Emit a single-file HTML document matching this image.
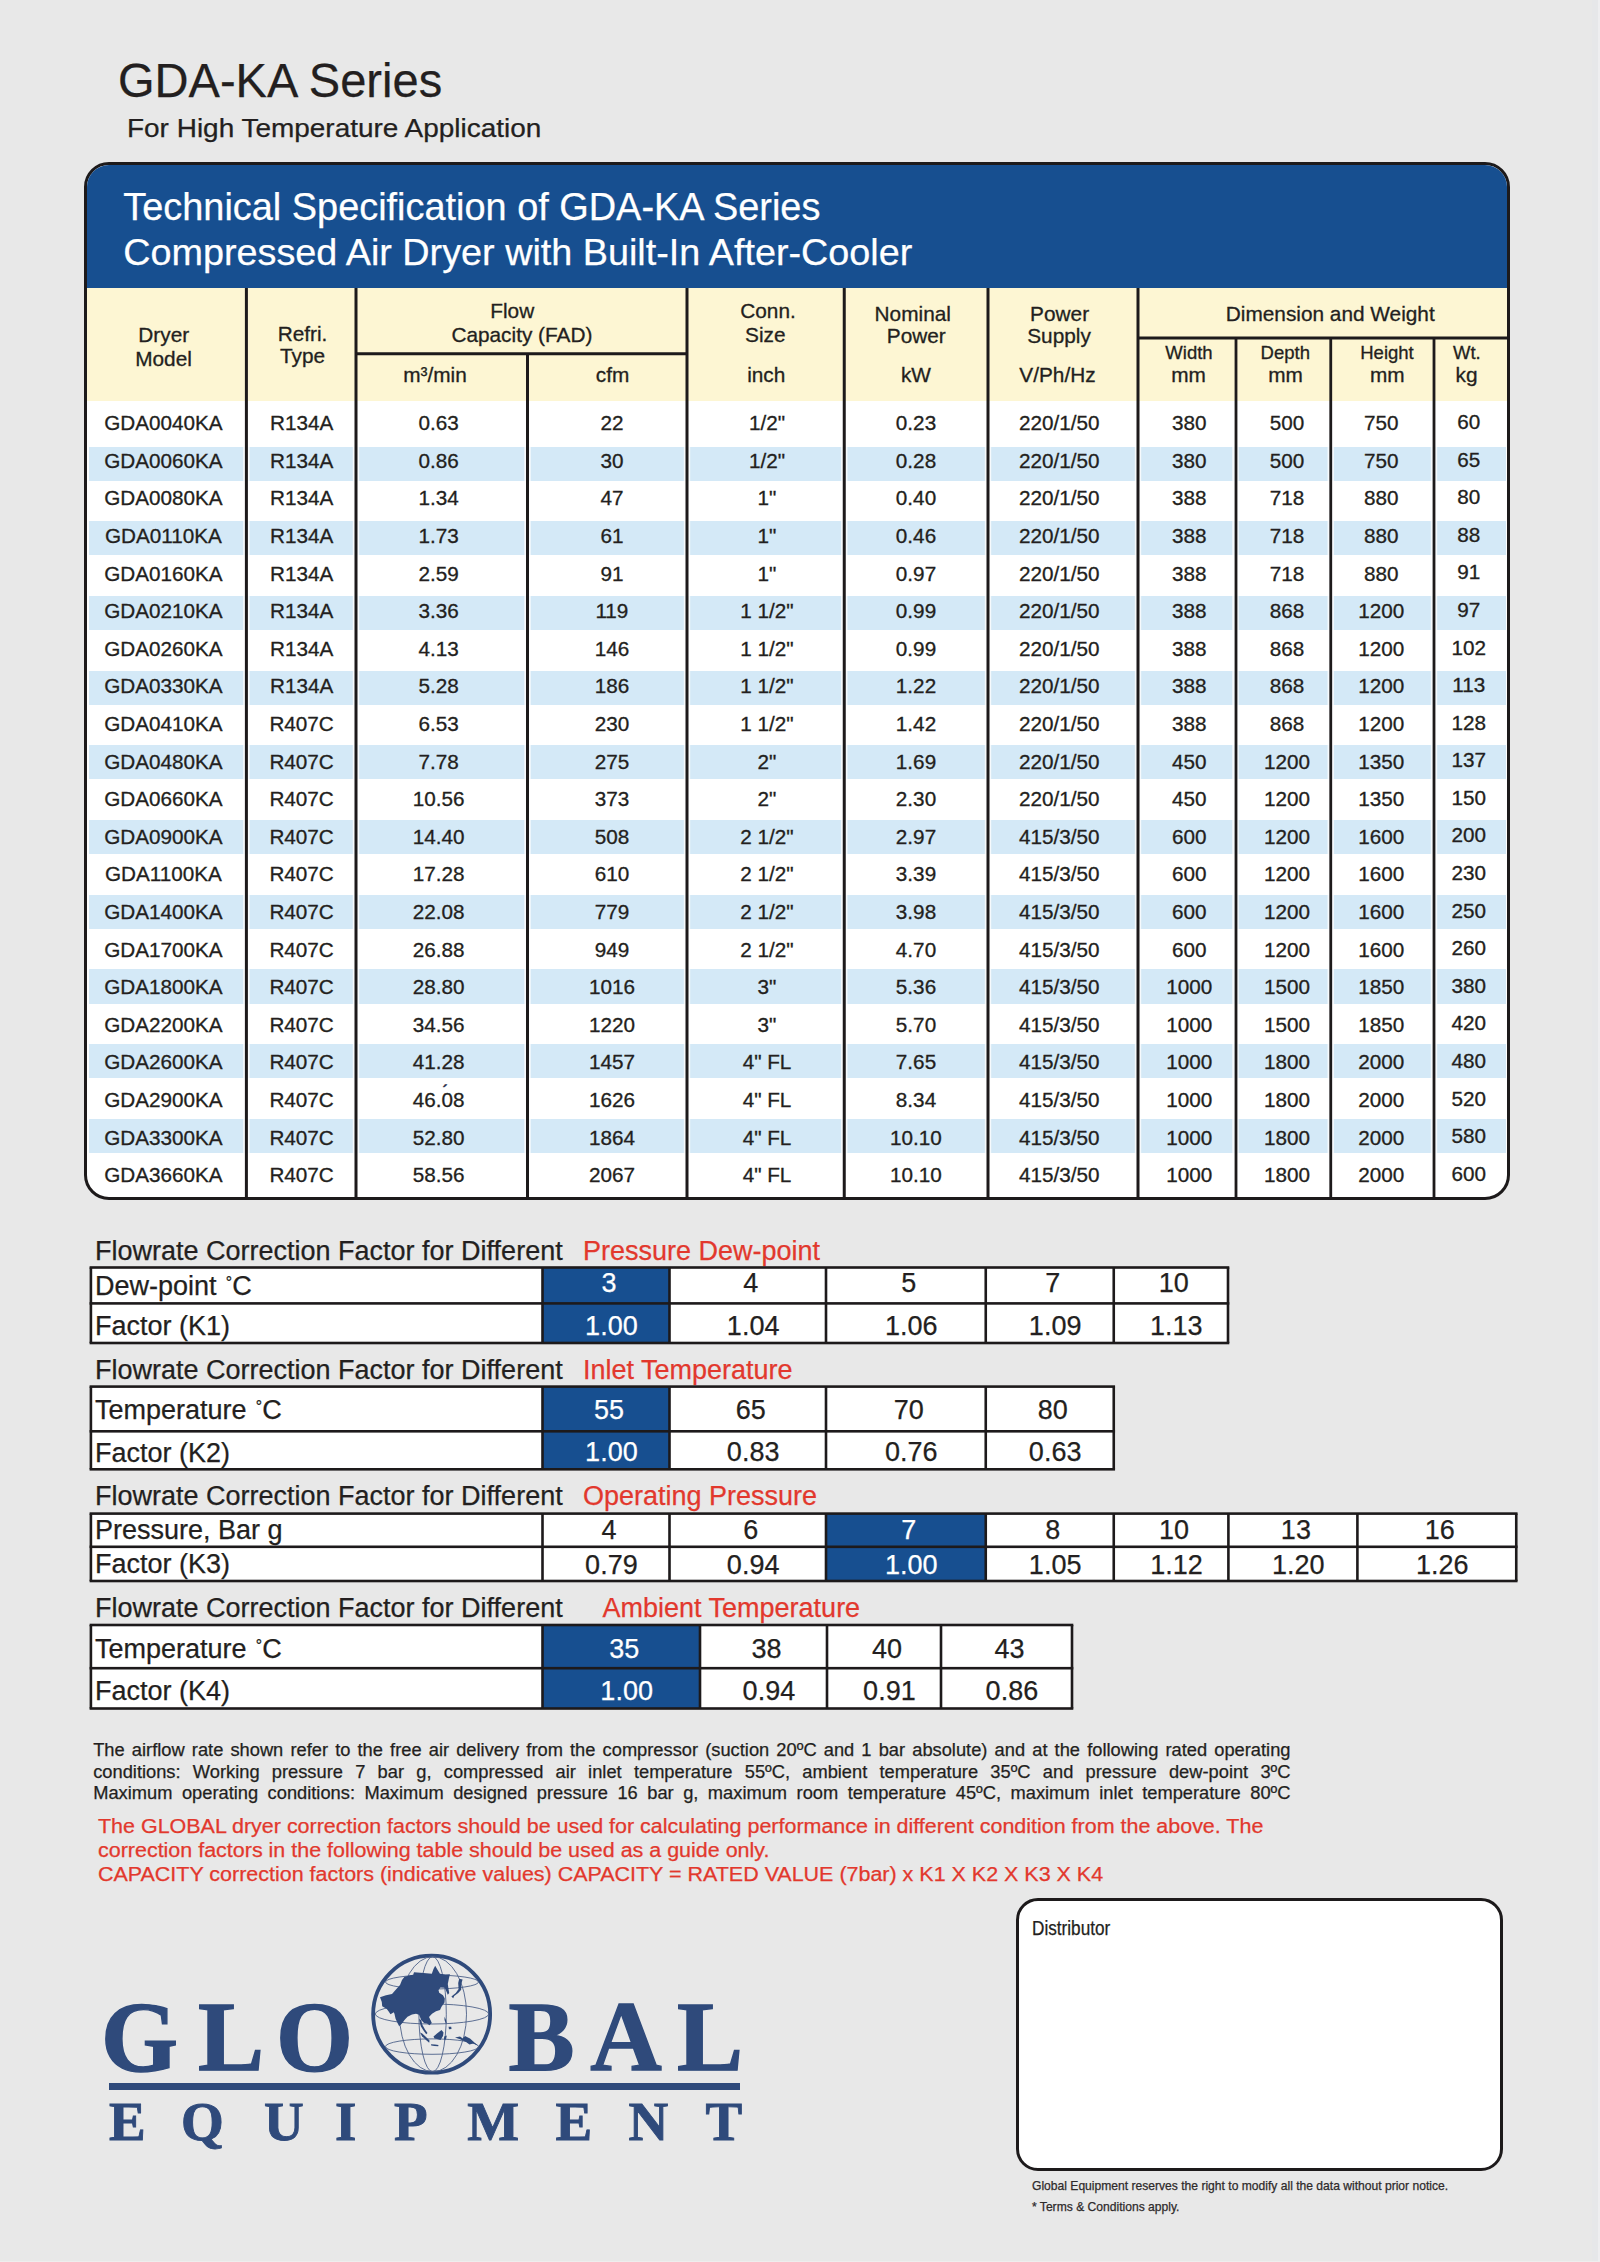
<!DOCTYPE html>
<html lang="en"><head><meta charset="utf-8"><title>GDA-KA Series – Technical Specification</title>
<style>
html,body{margin:0;padding:0;}
body{width:1600px;height:2262px;position:relative;overflow:hidden;background:#e8e8e8;
 font-family:"Liberation Sans",sans-serif;color:#231f20;}
.b{position:absolute;}
.t{position:absolute;white-space:nowrap;line-height:1;}
.j{white-space:normal;text-align:justify;text-align-last:justify;}
.t{-webkit-text-stroke:.25px currentColor;}
.d,.h{-webkit-text-stroke:.3px currentColor;}
.lg{font-family:"Liberation Serif",serif;font-weight:bold;-webkit-text-stroke:0;}
.dg{font-size:.58em;position:relative;top:-.42em;margin:0 .02em 0 .1em;}
.spec{position:absolute;border:3px solid #1d1a1b;border-radius:25px;background:#fff;overflow:hidden;}
.dist{position:absolute;border:3px solid #1d1a1b;border-radius:22px;background:#fff;}
</style></head>
<body>
<div class="b" style="left:1592.00px;top:0.00px;width:6.00px;height:2262.00px;background:#e6e7e9;"></div>
<div class="b" style="left:1598.00px;top:0.00px;width:2.00px;height:2262.00px;background:#eeeef0;"></div>
<div class="b" style="left:0.00px;top:2261.00px;width:1600.00px;height:1.00px;background:#eeeeee;"></div>
<div class="t ttl" style="left:118.10px;top:57px;font-size:48px;transform-origin:0 50%;transform:scaleX(0.98);">GDA-KA Series</div>
<div class="t ttl" style="left:126.50px;top:116px;font-size:25.3px;transform-origin:0 50%;transform:scaleX(1.105);">For High Temperature Application</div>
<div class="spec" style="left:84.0px;top:162.0px;width:1420.00px;height:1032.00px;">
<div class="b" style="left:0.00px;top:0.00px;width:1420.00px;height:123.00px;background:#174f90;"></div>
<div class="b" style="left:0.00px;top:123.00px;width:1420.00px;height:112.80px;background:#fdf6d3;"></div>
<div class="b" style="left:2.00px;top:281.50px;width:1416.50px;height:34.20px;background:#d4e9f7;"></div>
<div class="b" style="left:2.00px;top:356.20px;width:1416.50px;height:34.20px;background:#d4e9f7;"></div>
<div class="b" style="left:2.00px;top:430.90px;width:1416.50px;height:34.20px;background:#d4e9f7;"></div>
<div class="b" style="left:2.00px;top:505.60px;width:1416.50px;height:34.20px;background:#d4e9f7;"></div>
<div class="b" style="left:2.00px;top:580.30px;width:1416.50px;height:34.20px;background:#d4e9f7;"></div>
<div class="b" style="left:2.00px;top:655.00px;width:1416.50px;height:34.20px;background:#d4e9f7;"></div>
<div class="b" style="left:2.00px;top:729.70px;width:1416.50px;height:34.20px;background:#d4e9f7;"></div>
<div class="b" style="left:2.00px;top:804.40px;width:1416.50px;height:34.20px;background:#d4e9f7;"></div>
<div class="b" style="left:2.00px;top:879.10px;width:1416.50px;height:34.20px;background:#d4e9f7;"></div>
<div class="b" style="left:2.00px;top:953.80px;width:1416.50px;height:34.20px;background:#d4e9f7;"></div>
</div>
<div class="t" style="left:123.30px;top:189px;font-size:37.9px;color:#fff;">Technical Specification of GDA-KA Series</div>
<div class="t" style="left:123.20px;top:234px;font-size:37.78px;color:#fff;">Compressed Air Dryer with Built-In After-Cooler</div>
<svg class="b" style="left:0;top:280px" width="1600" height="930" viewBox="0 280 1600 930" fill="#1d1a1b"><g fill="#fff" opacity=".8"><rect x="243.20" y="401" width="6.4" height="796"/><rect x="352.80" y="401" width="6.4" height="796"/><rect x="683.80" y="401" width="6.4" height="796"/><rect x="841.05" y="401" width="6.4" height="796"/><rect x="984.80" y="401" width="6.4" height="796"/><rect x="1134.80" y="401" width="6.4" height="796"/><rect x="524.30" y="401" width="6.4" height="796"/><rect x="1232.30" y="401" width="6.4" height="796"/><rect x="1327.55" y="401" width="6.4" height="796"/><rect x="1430.80" y="401" width="6.4" height="796"/></g><rect x="244.90" y="288.00" width="3.00" height="909.50"/><rect x="354.50" y="288.00" width="3.00" height="909.50"/><rect x="685.50" y="288.00" width="3.00" height="909.50"/><rect x="842.75" y="288.00" width="3.00" height="909.50"/><rect x="986.50" y="288.00" width="3.00" height="909.50"/><rect x="1136.50" y="288.00" width="3.00" height="909.50"/><rect x="526.00" y="353.75" width="3.00" height="843.75"/><rect x="1234.60" y="338.00" width="2.80" height="859.50"/><rect x="1329.35" y="338.00" width="2.80" height="859.50"/><rect x="1432.60" y="338.00" width="2.80" height="859.50"/><rect x="356.00" y="352.25" width="331.00" height="3.00"/><rect x="1138.00" y="336.50" width="369.00" height="3.00"/></svg>
<div class="t h" style="left:163.75px;top:325px;font-size:20.8px;transform:translateX(-50%);">Dryer</div>
<div class="t h" style="left:163.50px;top:349px;font-size:20.8px;transform:translateX(-50%);">Model</div>
<div class="t h" style="left:302.50px;top:324px;font-size:20.8px;transform:translateX(-50%);">Refri.</div>
<div class="t h" style="left:302.50px;top:346px;font-size:20.8px;transform:translateX(-50%);">Type</div>
<div class="t h" style="left:512.25px;top:301px;font-size:20.8px;transform:translateX(-50%);">Flow</div>
<div class="t h" style="left:521.90px;top:325px;font-size:20.8px;transform:translateX(-50%);">Capacity (FAD)</div>
<div class="t h" style="left:435.00px;top:365px;font-size:20.8px;transform:translateX(-50%);">m³/min</div>
<div class="t h" style="left:612.50px;top:365px;font-size:20.8px;transform:translateX(-50%);">cfm</div>
<div class="t h" style="left:768.00px;top:301px;font-size:20.8px;transform:translateX(-50%);">Conn.</div>
<div class="t h" style="left:765.25px;top:325px;font-size:20.8px;transform:translateX(-50%);">Size</div>
<div class="t h" style="left:766.25px;top:365px;font-size:20.8px;transform:translateX(-50%);">inch</div>
<div class="t h" style="left:912.75px;top:304px;font-size:20.8px;transform:translateX(-50%);">Nominal</div>
<div class="t h" style="left:916.25px;top:326px;font-size:20.8px;transform:translateX(-50%);">Power</div>
<div class="t h" style="left:915.90px;top:365px;font-size:20.8px;transform:translateX(-50%);">kW</div>
<div class="t h" style="left:1059.60px;top:304px;font-size:20.8px;transform:translateX(-50%);">Power</div>
<div class="t h" style="left:1059.00px;top:326px;font-size:20.8px;transform:translateX(-50%);">Supply</div>
<div class="t h" style="left:1057.50px;top:365px;font-size:20.8px;transform:translateX(-50%);">V/Ph/Hz</div>
<div class="t h" style="left:1330.25px;top:304px;font-size:20.8px;transform:translateX(-50%);">Dimension and Weight</div>
<div class="t h" style="left:1189.00px;top:344px;font-size:18.5px;transform:translateX(-50%);">Width</div>
<div class="t h" style="left:1188.50px;top:365px;font-size:20.8px;transform:translateX(-50%);">mm</div>
<div class="t h" style="left:1285.25px;top:344px;font-size:18.5px;transform:translateX(-50%);">Depth</div>
<div class="t h" style="left:1285.50px;top:365px;font-size:20.8px;transform:translateX(-50%);">mm</div>
<div class="t h" style="left:1387.00px;top:344px;font-size:18.5px;transform:translateX(-50%);">Height</div>
<div class="t h" style="left:1387.25px;top:365px;font-size:20.8px;transform:translateX(-50%);">mm</div>
<div class="t h" style="left:1466.90px;top:344px;font-size:18.5px;transform:translateX(-50%);">Wt.</div>
<div class="t h" style="left:1466.60px;top:365px;font-size:20.8px;transform:translateX(-50%);">kg</div>
<div class="t d" style="left:163.40px;top:413px;font-size:20.7px;transform:translateX(-50%);">GDA0040KA</div>
<div class="t d" style="left:301.60px;top:413px;font-size:20.7px;transform:translateX(-50%);">R134A</div>
<div class="t d" style="left:438.70px;top:413px;font-size:20.7px;transform:translateX(-50%);">0.63</div>
<div class="t d" style="left:611.90px;top:413px;font-size:20.7px;transform:translateX(-50%);">22</div>
<div class="t d" style="left:767.00px;top:413px;font-size:20.7px;transform:translateX(-50%);">1/2"</div>
<div class="t d" style="left:916.00px;top:413px;font-size:20.7px;transform:translateX(-50%);">0.23</div>
<div class="t d" style="left:1059.20px;top:413px;font-size:20.7px;transform:translateX(-50%);">220/1/50</div>
<div class="t d" style="left:1189.20px;top:413px;font-size:20.7px;transform:translateX(-50%);">380</div>
<div class="t d" style="left:1287.00px;top:413px;font-size:20.7px;transform:translateX(-50%);">500</div>
<div class="t d" style="left:1381.20px;top:413px;font-size:20.7px;transform:translateX(-50%);">750</div>
<div class="t d" style="left:1468.80px;top:412px;font-size:20.7px;transform:translateX(-50%);">60</div>
<div class="t d" style="left:163.40px;top:451px;font-size:20.7px;transform:translateX(-50%);">GDA0060KA</div>
<div class="t d" style="left:301.60px;top:451px;font-size:20.7px;transform:translateX(-50%);">R134A</div>
<div class="t d" style="left:438.70px;top:451px;font-size:20.7px;transform:translateX(-50%);">0.86</div>
<div class="t d" style="left:611.90px;top:451px;font-size:20.7px;transform:translateX(-50%);">30</div>
<div class="t d" style="left:767.00px;top:451px;font-size:20.7px;transform:translateX(-50%);">1/2"</div>
<div class="t d" style="left:916.00px;top:451px;font-size:20.7px;transform:translateX(-50%);">0.28</div>
<div class="t d" style="left:1059.20px;top:451px;font-size:20.7px;transform:translateX(-50%);">220/1/50</div>
<div class="t d" style="left:1189.20px;top:451px;font-size:20.7px;transform:translateX(-50%);">380</div>
<div class="t d" style="left:1287.00px;top:451px;font-size:20.7px;transform:translateX(-50%);">500</div>
<div class="t d" style="left:1381.20px;top:451px;font-size:20.7px;transform:translateX(-50%);">750</div>
<div class="t d" style="left:1468.80px;top:450px;font-size:20.7px;transform:translateX(-50%);">65</div>
<div class="t d" style="left:163.40px;top:488px;font-size:20.7px;transform:translateX(-50%);">GDA0080KA</div>
<div class="t d" style="left:301.60px;top:488px;font-size:20.7px;transform:translateX(-50%);">R134A</div>
<div class="t d" style="left:438.70px;top:488px;font-size:20.7px;transform:translateX(-50%);">1.34</div>
<div class="t d" style="left:611.90px;top:488px;font-size:20.7px;transform:translateX(-50%);">47</div>
<div class="t d" style="left:767.00px;top:488px;font-size:20.7px;transform:translateX(-50%);">1"</div>
<div class="t d" style="left:916.00px;top:488px;font-size:20.7px;transform:translateX(-50%);">0.40</div>
<div class="t d" style="left:1059.20px;top:488px;font-size:20.7px;transform:translateX(-50%);">220/1/50</div>
<div class="t d" style="left:1189.20px;top:488px;font-size:20.7px;transform:translateX(-50%);">388</div>
<div class="t d" style="left:1287.00px;top:488px;font-size:20.7px;transform:translateX(-50%);">718</div>
<div class="t d" style="left:1381.20px;top:488px;font-size:20.7px;transform:translateX(-50%);">880</div>
<div class="t d" style="left:1468.80px;top:487px;font-size:20.7px;transform:translateX(-50%);">80</div>
<div class="t d" style="left:163.40px;top:526px;font-size:20.7px;transform:translateX(-50%);">GDA0110KA</div>
<div class="t d" style="left:301.60px;top:526px;font-size:20.7px;transform:translateX(-50%);">R134A</div>
<div class="t d" style="left:438.70px;top:526px;font-size:20.7px;transform:translateX(-50%);">1.73</div>
<div class="t d" style="left:611.90px;top:526px;font-size:20.7px;transform:translateX(-50%);">61</div>
<div class="t d" style="left:767.00px;top:526px;font-size:20.7px;transform:translateX(-50%);">1"</div>
<div class="t d" style="left:916.00px;top:526px;font-size:20.7px;transform:translateX(-50%);">0.46</div>
<div class="t d" style="left:1059.20px;top:526px;font-size:20.7px;transform:translateX(-50%);">220/1/50</div>
<div class="t d" style="left:1189.20px;top:526px;font-size:20.7px;transform:translateX(-50%);">388</div>
<div class="t d" style="left:1287.00px;top:526px;font-size:20.7px;transform:translateX(-50%);">718</div>
<div class="t d" style="left:1381.20px;top:526px;font-size:20.7px;transform:translateX(-50%);">880</div>
<div class="t d" style="left:1468.80px;top:525px;font-size:20.7px;transform:translateX(-50%);">88</div>
<div class="t d" style="left:163.40px;top:564px;font-size:20.7px;transform:translateX(-50%);">GDA0160KA</div>
<div class="t d" style="left:301.60px;top:564px;font-size:20.7px;transform:translateX(-50%);">R134A</div>
<div class="t d" style="left:438.70px;top:564px;font-size:20.7px;transform:translateX(-50%);">2.59</div>
<div class="t d" style="left:611.90px;top:564px;font-size:20.7px;transform:translateX(-50%);">91</div>
<div class="t d" style="left:767.00px;top:564px;font-size:20.7px;transform:translateX(-50%);">1"</div>
<div class="t d" style="left:916.00px;top:564px;font-size:20.7px;transform:translateX(-50%);">0.97</div>
<div class="t d" style="left:1059.20px;top:564px;font-size:20.7px;transform:translateX(-50%);">220/1/50</div>
<div class="t d" style="left:1189.20px;top:564px;font-size:20.7px;transform:translateX(-50%);">388</div>
<div class="t d" style="left:1287.00px;top:564px;font-size:20.7px;transform:translateX(-50%);">718</div>
<div class="t d" style="left:1381.20px;top:564px;font-size:20.7px;transform:translateX(-50%);">880</div>
<div class="t d" style="left:1468.80px;top:562px;font-size:20.7px;transform:translateX(-50%);">91</div>
<div class="t d" style="left:163.40px;top:601px;font-size:20.7px;transform:translateX(-50%);">GDA0210KA</div>
<div class="t d" style="left:301.60px;top:601px;font-size:20.7px;transform:translateX(-50%);">R134A</div>
<div class="t d" style="left:438.70px;top:601px;font-size:20.7px;transform:translateX(-50%);">3.36</div>
<div class="t d" style="left:611.90px;top:601px;font-size:20.7px;transform:translateX(-50%);">119</div>
<div class="t d" style="left:767.00px;top:601px;font-size:20.7px;transform:translateX(-50%);">1 1/2"</div>
<div class="t d" style="left:916.00px;top:601px;font-size:20.7px;transform:translateX(-50%);">0.99</div>
<div class="t d" style="left:1059.20px;top:601px;font-size:20.7px;transform:translateX(-50%);">220/1/50</div>
<div class="t d" style="left:1189.20px;top:601px;font-size:20.7px;transform:translateX(-50%);">388</div>
<div class="t d" style="left:1287.00px;top:601px;font-size:20.7px;transform:translateX(-50%);">868</div>
<div class="t d" style="left:1381.20px;top:601px;font-size:20.7px;transform:translateX(-50%);">1200</div>
<div class="t d" style="left:1468.80px;top:600px;font-size:20.7px;transform:translateX(-50%);">97</div>
<div class="t d" style="left:163.40px;top:639px;font-size:20.7px;transform:translateX(-50%);">GDA0260KA</div>
<div class="t d" style="left:301.60px;top:639px;font-size:20.7px;transform:translateX(-50%);">R134A</div>
<div class="t d" style="left:438.70px;top:639px;font-size:20.7px;transform:translateX(-50%);">4.13</div>
<div class="t d" style="left:611.90px;top:639px;font-size:20.7px;transform:translateX(-50%);">146</div>
<div class="t d" style="left:767.00px;top:639px;font-size:20.7px;transform:translateX(-50%);">1 1/2"</div>
<div class="t d" style="left:916.00px;top:639px;font-size:20.7px;transform:translateX(-50%);">0.99</div>
<div class="t d" style="left:1059.20px;top:639px;font-size:20.7px;transform:translateX(-50%);">220/1/50</div>
<div class="t d" style="left:1189.20px;top:639px;font-size:20.7px;transform:translateX(-50%);">388</div>
<div class="t d" style="left:1287.00px;top:639px;font-size:20.7px;transform:translateX(-50%);">868</div>
<div class="t d" style="left:1381.20px;top:639px;font-size:20.7px;transform:translateX(-50%);">1200</div>
<div class="t d" style="left:1468.80px;top:638px;font-size:20.7px;transform:translateX(-50%);">102</div>
<div class="t d" style="left:163.40px;top:676px;font-size:20.7px;transform:translateX(-50%);">GDA0330KA</div>
<div class="t d" style="left:301.60px;top:676px;font-size:20.7px;transform:translateX(-50%);">R134A</div>
<div class="t d" style="left:438.70px;top:676px;font-size:20.7px;transform:translateX(-50%);">5.28</div>
<div class="t d" style="left:611.90px;top:676px;font-size:20.7px;transform:translateX(-50%);">186</div>
<div class="t d" style="left:767.00px;top:676px;font-size:20.7px;transform:translateX(-50%);">1 1/2"</div>
<div class="t d" style="left:916.00px;top:676px;font-size:20.7px;transform:translateX(-50%);">1.22</div>
<div class="t d" style="left:1059.20px;top:676px;font-size:20.7px;transform:translateX(-50%);">220/1/50</div>
<div class="t d" style="left:1189.20px;top:676px;font-size:20.7px;transform:translateX(-50%);">388</div>
<div class="t d" style="left:1287.00px;top:676px;font-size:20.7px;transform:translateX(-50%);">868</div>
<div class="t d" style="left:1381.20px;top:676px;font-size:20.7px;transform:translateX(-50%);">1200</div>
<div class="t d" style="left:1468.80px;top:675px;font-size:20.7px;transform:translateX(-50%);">113</div>
<div class="t d" style="left:163.40px;top:714px;font-size:20.7px;transform:translateX(-50%);">GDA0410KA</div>
<div class="t d" style="left:301.60px;top:714px;font-size:20.7px;transform:translateX(-50%);">R407C</div>
<div class="t d" style="left:438.70px;top:714px;font-size:20.7px;transform:translateX(-50%);">6.53</div>
<div class="t d" style="left:611.90px;top:714px;font-size:20.7px;transform:translateX(-50%);">230</div>
<div class="t d" style="left:767.00px;top:714px;font-size:20.7px;transform:translateX(-50%);">1 1/2"</div>
<div class="t d" style="left:916.00px;top:714px;font-size:20.7px;transform:translateX(-50%);">1.42</div>
<div class="t d" style="left:1059.20px;top:714px;font-size:20.7px;transform:translateX(-50%);">220/1/50</div>
<div class="t d" style="left:1189.20px;top:714px;font-size:20.7px;transform:translateX(-50%);">388</div>
<div class="t d" style="left:1287.00px;top:714px;font-size:20.7px;transform:translateX(-50%);">868</div>
<div class="t d" style="left:1381.20px;top:714px;font-size:20.7px;transform:translateX(-50%);">1200</div>
<div class="t d" style="left:1468.80px;top:713px;font-size:20.7px;transform:translateX(-50%);">128</div>
<div class="t d" style="left:163.40px;top:752px;font-size:20.7px;transform:translateX(-50%);">GDA0480KA</div>
<div class="t d" style="left:301.60px;top:752px;font-size:20.7px;transform:translateX(-50%);">R407C</div>
<div class="t d" style="left:438.70px;top:752px;font-size:20.7px;transform:translateX(-50%);">7.78</div>
<div class="t d" style="left:611.90px;top:752px;font-size:20.7px;transform:translateX(-50%);">275</div>
<div class="t d" style="left:767.00px;top:752px;font-size:20.7px;transform:translateX(-50%);">2"</div>
<div class="t d" style="left:916.00px;top:752px;font-size:20.7px;transform:translateX(-50%);">1.69</div>
<div class="t d" style="left:1059.20px;top:752px;font-size:20.7px;transform:translateX(-50%);">220/1/50</div>
<div class="t d" style="left:1189.20px;top:752px;font-size:20.7px;transform:translateX(-50%);">450</div>
<div class="t d" style="left:1287.00px;top:752px;font-size:20.7px;transform:translateX(-50%);">1200</div>
<div class="t d" style="left:1381.20px;top:752px;font-size:20.7px;transform:translateX(-50%);">1350</div>
<div class="t d" style="left:1468.80px;top:750px;font-size:20.7px;transform:translateX(-50%);">137</div>
<div class="t d" style="left:163.40px;top:789px;font-size:20.7px;transform:translateX(-50%);">GDA0660KA</div>
<div class="t d" style="left:301.60px;top:789px;font-size:20.7px;transform:translateX(-50%);">R407C</div>
<div class="t d" style="left:438.70px;top:789px;font-size:20.7px;transform:translateX(-50%);">10.56</div>
<div class="t d" style="left:611.90px;top:789px;font-size:20.7px;transform:translateX(-50%);">373</div>
<div class="t d" style="left:767.00px;top:789px;font-size:20.7px;transform:translateX(-50%);">2"</div>
<div class="t d" style="left:916.00px;top:789px;font-size:20.7px;transform:translateX(-50%);">2.30</div>
<div class="t d" style="left:1059.20px;top:789px;font-size:20.7px;transform:translateX(-50%);">220/1/50</div>
<div class="t d" style="left:1189.20px;top:789px;font-size:20.7px;transform:translateX(-50%);">450</div>
<div class="t d" style="left:1287.00px;top:789px;font-size:20.7px;transform:translateX(-50%);">1200</div>
<div class="t d" style="left:1381.20px;top:789px;font-size:20.7px;transform:translateX(-50%);">1350</div>
<div class="t d" style="left:1468.80px;top:788px;font-size:20.7px;transform:translateX(-50%);">150</div>
<div class="t d" style="left:163.40px;top:827px;font-size:20.7px;transform:translateX(-50%);">GDA0900KA</div>
<div class="t d" style="left:301.60px;top:827px;font-size:20.7px;transform:translateX(-50%);">R407C</div>
<div class="t d" style="left:438.70px;top:827px;font-size:20.7px;transform:translateX(-50%);">14.40</div>
<div class="t d" style="left:611.90px;top:827px;font-size:20.7px;transform:translateX(-50%);">508</div>
<div class="t d" style="left:767.00px;top:827px;font-size:20.7px;transform:translateX(-50%);">2 1/2"</div>
<div class="t d" style="left:916.00px;top:827px;font-size:20.7px;transform:translateX(-50%);">2.97</div>
<div class="t d" style="left:1059.20px;top:827px;font-size:20.7px;transform:translateX(-50%);">415/3/50</div>
<div class="t d" style="left:1189.20px;top:827px;font-size:20.7px;transform:translateX(-50%);">600</div>
<div class="t d" style="left:1287.00px;top:827px;font-size:20.7px;transform:translateX(-50%);">1200</div>
<div class="t d" style="left:1381.20px;top:827px;font-size:20.7px;transform:translateX(-50%);">1600</div>
<div class="t d" style="left:1468.80px;top:825px;font-size:20.7px;transform:translateX(-50%);">200</div>
<div class="t d" style="left:163.40px;top:864px;font-size:20.7px;transform:translateX(-50%);">GDA1100KA</div>
<div class="t d" style="left:301.60px;top:864px;font-size:20.7px;transform:translateX(-50%);">R407C</div>
<div class="t d" style="left:438.70px;top:864px;font-size:20.7px;transform:translateX(-50%);">17.28</div>
<div class="t d" style="left:611.90px;top:864px;font-size:20.7px;transform:translateX(-50%);">610</div>
<div class="t d" style="left:767.00px;top:864px;font-size:20.7px;transform:translateX(-50%);">2 1/2"</div>
<div class="t d" style="left:916.00px;top:864px;font-size:20.7px;transform:translateX(-50%);">3.39</div>
<div class="t d" style="left:1059.20px;top:864px;font-size:20.7px;transform:translateX(-50%);">415/3/50</div>
<div class="t d" style="left:1189.20px;top:864px;font-size:20.7px;transform:translateX(-50%);">600</div>
<div class="t d" style="left:1287.00px;top:864px;font-size:20.7px;transform:translateX(-50%);">1200</div>
<div class="t d" style="left:1381.20px;top:864px;font-size:20.7px;transform:translateX(-50%);">1600</div>
<div class="t d" style="left:1468.80px;top:863px;font-size:20.7px;transform:translateX(-50%);">230</div>
<div class="t d" style="left:163.40px;top:902px;font-size:20.7px;transform:translateX(-50%);">GDA1400KA</div>
<div class="t d" style="left:301.60px;top:902px;font-size:20.7px;transform:translateX(-50%);">R407C</div>
<div class="t d" style="left:438.70px;top:902px;font-size:20.7px;transform:translateX(-50%);">22.08</div>
<div class="t d" style="left:611.90px;top:902px;font-size:20.7px;transform:translateX(-50%);">779</div>
<div class="t d" style="left:767.00px;top:902px;font-size:20.7px;transform:translateX(-50%);">2 1/2"</div>
<div class="t d" style="left:916.00px;top:902px;font-size:20.7px;transform:translateX(-50%);">3.98</div>
<div class="t d" style="left:1059.20px;top:902px;font-size:20.7px;transform:translateX(-50%);">415/3/50</div>
<div class="t d" style="left:1189.20px;top:902px;font-size:20.7px;transform:translateX(-50%);">600</div>
<div class="t d" style="left:1287.00px;top:902px;font-size:20.7px;transform:translateX(-50%);">1200</div>
<div class="t d" style="left:1381.20px;top:902px;font-size:20.7px;transform:translateX(-50%);">1600</div>
<div class="t d" style="left:1468.80px;top:901px;font-size:20.7px;transform:translateX(-50%);">250</div>
<div class="t d" style="left:163.40px;top:940px;font-size:20.7px;transform:translateX(-50%);">GDA1700KA</div>
<div class="t d" style="left:301.60px;top:940px;font-size:20.7px;transform:translateX(-50%);">R407C</div>
<div class="t d" style="left:438.70px;top:940px;font-size:20.7px;transform:translateX(-50%);">26.88</div>
<div class="t d" style="left:611.90px;top:940px;font-size:20.7px;transform:translateX(-50%);">949</div>
<div class="t d" style="left:767.00px;top:940px;font-size:20.7px;transform:translateX(-50%);">2 1/2"</div>
<div class="t d" style="left:916.00px;top:940px;font-size:20.7px;transform:translateX(-50%);">4.70</div>
<div class="t d" style="left:1059.20px;top:940px;font-size:20.7px;transform:translateX(-50%);">415/3/50</div>
<div class="t d" style="left:1189.20px;top:940px;font-size:20.7px;transform:translateX(-50%);">600</div>
<div class="t d" style="left:1287.00px;top:940px;font-size:20.7px;transform:translateX(-50%);">1200</div>
<div class="t d" style="left:1381.20px;top:940px;font-size:20.7px;transform:translateX(-50%);">1600</div>
<div class="t d" style="left:1468.80px;top:938px;font-size:20.7px;transform:translateX(-50%);">260</div>
<div class="t d" style="left:163.40px;top:977px;font-size:20.7px;transform:translateX(-50%);">GDA1800KA</div>
<div class="t d" style="left:301.60px;top:977px;font-size:20.7px;transform:translateX(-50%);">R407C</div>
<div class="t d" style="left:438.70px;top:977px;font-size:20.7px;transform:translateX(-50%);">28.80</div>
<div class="t d" style="left:611.90px;top:977px;font-size:20.7px;transform:translateX(-50%);">1016</div>
<div class="t d" style="left:767.00px;top:977px;font-size:20.7px;transform:translateX(-50%);">3"</div>
<div class="t d" style="left:916.00px;top:977px;font-size:20.7px;transform:translateX(-50%);">5.36</div>
<div class="t d" style="left:1059.20px;top:977px;font-size:20.7px;transform:translateX(-50%);">415/3/50</div>
<div class="t d" style="left:1189.20px;top:977px;font-size:20.7px;transform:translateX(-50%);">1000</div>
<div class="t d" style="left:1287.00px;top:977px;font-size:20.7px;transform:translateX(-50%);">1500</div>
<div class="t d" style="left:1381.20px;top:977px;font-size:20.7px;transform:translateX(-50%);">1850</div>
<div class="t d" style="left:1468.80px;top:976px;font-size:20.7px;transform:translateX(-50%);">380</div>
<div class="t d" style="left:163.40px;top:1015px;font-size:20.7px;transform:translateX(-50%);">GDA2200KA</div>
<div class="t d" style="left:301.60px;top:1015px;font-size:20.7px;transform:translateX(-50%);">R407C</div>
<div class="t d" style="left:438.70px;top:1015px;font-size:20.7px;transform:translateX(-50%);">34.56</div>
<div class="t d" style="left:611.90px;top:1015px;font-size:20.7px;transform:translateX(-50%);">1220</div>
<div class="t d" style="left:767.00px;top:1015px;font-size:20.7px;transform:translateX(-50%);">3"</div>
<div class="t d" style="left:916.00px;top:1015px;font-size:20.7px;transform:translateX(-50%);">5.70</div>
<div class="t d" style="left:1059.20px;top:1015px;font-size:20.7px;transform:translateX(-50%);">415/3/50</div>
<div class="t d" style="left:1189.20px;top:1015px;font-size:20.7px;transform:translateX(-50%);">1000</div>
<div class="t d" style="left:1287.00px;top:1015px;font-size:20.7px;transform:translateX(-50%);">1500</div>
<div class="t d" style="left:1381.20px;top:1015px;font-size:20.7px;transform:translateX(-50%);">1850</div>
<div class="t d" style="left:1468.80px;top:1013px;font-size:20.7px;transform:translateX(-50%);">420</div>
<div class="t d" style="left:163.40px;top:1052px;font-size:20.7px;transform:translateX(-50%);">GDA2600KA</div>
<div class="t d" style="left:301.60px;top:1052px;font-size:20.7px;transform:translateX(-50%);">R407C</div>
<div class="t d" style="left:438.70px;top:1052px;font-size:20.7px;transform:translateX(-50%);">41.28</div>
<div class="t d" style="left:611.90px;top:1052px;font-size:20.7px;transform:translateX(-50%);">1457</div>
<div class="t d" style="left:767.00px;top:1052px;font-size:20.7px;transform:translateX(-50%);">4" FL</div>
<div class="t d" style="left:916.00px;top:1052px;font-size:20.7px;transform:translateX(-50%);">7.65</div>
<div class="t d" style="left:1059.20px;top:1052px;font-size:20.7px;transform:translateX(-50%);">415/3/50</div>
<div class="t d" style="left:1189.20px;top:1052px;font-size:20.7px;transform:translateX(-50%);">1000</div>
<div class="t d" style="left:1287.00px;top:1052px;font-size:20.7px;transform:translateX(-50%);">1800</div>
<div class="t d" style="left:1381.20px;top:1052px;font-size:20.7px;transform:translateX(-50%);">2000</div>
<div class="t d" style="left:1468.80px;top:1051px;font-size:20.7px;transform:translateX(-50%);">480</div>
<div class="t d" style="left:163.40px;top:1090px;font-size:20.7px;transform:translateX(-50%);">GDA2900KA</div>
<div class="t d" style="left:301.60px;top:1090px;font-size:20.7px;transform:translateX(-50%);">R407C</div>
<div class="t d" style="left:438.70px;top:1090px;font-size:20.7px;transform:translateX(-50%);">46.08</div>
<div class="t d" style="left:611.90px;top:1090px;font-size:20.7px;transform:translateX(-50%);">1626</div>
<div class="t d" style="left:767.00px;top:1090px;font-size:20.7px;transform:translateX(-50%);">4" FL</div>
<div class="t d" style="left:916.00px;top:1090px;font-size:20.7px;transform:translateX(-50%);">8.34</div>
<div class="t d" style="left:1059.20px;top:1090px;font-size:20.7px;transform:translateX(-50%);">415/3/50</div>
<div class="t d" style="left:1189.20px;top:1090px;font-size:20.7px;transform:translateX(-50%);">1000</div>
<div class="t d" style="left:1287.00px;top:1090px;font-size:20.7px;transform:translateX(-50%);">1800</div>
<div class="t d" style="left:1381.20px;top:1090px;font-size:20.7px;transform:translateX(-50%);">2000</div>
<div class="t d" style="left:1468.80px;top:1089px;font-size:20.7px;transform:translateX(-50%);">520</div>
<div class="t d" style="left:163.40px;top:1128px;font-size:20.7px;transform:translateX(-50%);">GDA3300KA</div>
<div class="t d" style="left:301.60px;top:1128px;font-size:20.7px;transform:translateX(-50%);">R407C</div>
<div class="t d" style="left:438.70px;top:1128px;font-size:20.7px;transform:translateX(-50%);">52.80</div>
<div class="t d" style="left:611.90px;top:1128px;font-size:20.7px;transform:translateX(-50%);">1864</div>
<div class="t d" style="left:767.00px;top:1128px;font-size:20.7px;transform:translateX(-50%);">4" FL</div>
<div class="t d" style="left:916.00px;top:1128px;font-size:20.7px;transform:translateX(-50%);">10.10</div>
<div class="t d" style="left:1059.20px;top:1128px;font-size:20.7px;transform:translateX(-50%);">415/3/50</div>
<div class="t d" style="left:1189.20px;top:1128px;font-size:20.7px;transform:translateX(-50%);">1000</div>
<div class="t d" style="left:1287.00px;top:1128px;font-size:20.7px;transform:translateX(-50%);">1800</div>
<div class="t d" style="left:1381.20px;top:1128px;font-size:20.7px;transform:translateX(-50%);">2000</div>
<div class="t d" style="left:1468.80px;top:1126px;font-size:20.7px;transform:translateX(-50%);">580</div>
<div class="t d" style="left:163.40px;top:1165px;font-size:20.7px;transform:translateX(-50%);">GDA3660KA</div>
<div class="t d" style="left:301.60px;top:1165px;font-size:20.7px;transform:translateX(-50%);">R407C</div>
<div class="t d" style="left:438.70px;top:1165px;font-size:20.7px;transform:translateX(-50%);">58.56</div>
<div class="t d" style="left:611.90px;top:1165px;font-size:20.7px;transform:translateX(-50%);">2067</div>
<div class="t d" style="left:767.00px;top:1165px;font-size:20.7px;transform:translateX(-50%);">4" FL</div>
<div class="t d" style="left:916.00px;top:1165px;font-size:20.7px;transform:translateX(-50%);">10.10</div>
<div class="t d" style="left:1059.20px;top:1165px;font-size:20.7px;transform:translateX(-50%);">415/3/50</div>
<div class="t d" style="left:1189.20px;top:1165px;font-size:20.7px;transform:translateX(-50%);">1000</div>
<div class="t d" style="left:1287.00px;top:1165px;font-size:20.7px;transform:translateX(-50%);">1800</div>
<div class="t d" style="left:1381.20px;top:1165px;font-size:20.7px;transform:translateX(-50%);">2000</div>
<div class="t d" style="left:1468.80px;top:1164px;font-size:20.7px;transform:translateX(-50%);">600</div>
<div class="t d" style="left:445.00px;top:1083px;font-size:15px;transform:translateX(-50%);font-weight:bold;color:#1f2a44;">´</div>
<div class="t" style="left:95.00px;top:1238px;font-size:27px;">Flowrate Correction Factor for Different</div>
<div class="t" style="left:583.00px;top:1238px;font-size:27px;color:#e2382d;">Pressure Dew-point</div>
<div class="b" style="left:90.90px;top:1267.50px;width:1137.10px;height:75.50px;background:#fff;"></div>
<div class="b" style="left:542.50px;top:1267.50px;width:127.00px;height:75.50px;background:#174f90;"></div>
<div class="t" style="left:95.00px;top:1273px;font-size:27px;">Dew-point <span class="dg">°</span>C</div>
<div class="t" style="left:95.00px;top:1313px;font-size:27px;">Factor (K1)</div>
<div class="t" style="left:609.00px;top:1270px;font-size:27px;transform:translateX(-50%);color:#fff;">3</div>
<div class="t" style="left:611.40px;top:1313px;font-size:27px;transform:translateX(-50%);color:#fff;">1.00</div>
<div class="t" style="left:750.75px;top:1270px;font-size:27px;transform:translateX(-50%);">4</div>
<div class="t" style="left:753.15px;top:1313px;font-size:27px;transform:translateX(-50%);">1.04</div>
<div class="t" style="left:908.88px;top:1270px;font-size:27px;transform:translateX(-50%);">5</div>
<div class="t" style="left:911.27px;top:1313px;font-size:27px;transform:translateX(-50%);">1.06</div>
<div class="t" style="left:1052.75px;top:1270px;font-size:27px;transform:translateX(-50%);">7</div>
<div class="t" style="left:1055.15px;top:1313px;font-size:27px;transform:translateX(-50%);">1.09</div>
<div class="t" style="left:1173.88px;top:1270px;font-size:27px;transform:translateX(-50%);">10</div>
<div class="t" style="left:1176.28px;top:1313px;font-size:27px;transform:translateX(-50%);">1.13</div>
<div class="t" style="left:95.00px;top:1357px;font-size:27px;">Flowrate Correction Factor for Different</div>
<div class="t" style="left:583.00px;top:1357px;font-size:27px;color:#e2382d;">Inlet Temperature</div>
<div class="b" style="left:90.90px;top:1386.60px;width:1022.85px;height:82.70px;background:#fff;"></div>
<div class="b" style="left:542.50px;top:1386.60px;width:127.00px;height:82.70px;background:#174f90;"></div>
<div class="t" style="left:95.00px;top:1397px;font-size:27px;">Temperature <span class="dg">°</span>C</div>
<div class="t" style="left:95.00px;top:1440px;font-size:27px;">Factor (K2)</div>
<div class="t" style="left:609.00px;top:1397px;font-size:27px;transform:translateX(-50%);color:#fff;">55</div>
<div class="t" style="left:611.40px;top:1439px;font-size:27px;transform:translateX(-50%);color:#fff;">1.00</div>
<div class="t" style="left:750.75px;top:1397px;font-size:27px;transform:translateX(-50%);">65</div>
<div class="t" style="left:753.15px;top:1439px;font-size:27px;transform:translateX(-50%);">0.83</div>
<div class="t" style="left:908.88px;top:1397px;font-size:27px;transform:translateX(-50%);">70</div>
<div class="t" style="left:911.27px;top:1439px;font-size:27px;transform:translateX(-50%);">0.76</div>
<div class="t" style="left:1052.75px;top:1397px;font-size:27px;transform:translateX(-50%);">80</div>
<div class="t" style="left:1055.15px;top:1439px;font-size:27px;transform:translateX(-50%);">0.63</div>
<div class="t" style="left:95.00px;top:1483px;font-size:27px;">Flowrate Correction Factor for Different</div>
<div class="t" style="left:583.00px;top:1483px;font-size:27px;color:#e2382d;">Operating Pressure</div>
<div class="b" style="left:90.90px;top:1513.60px;width:1425.35px;height:67.40px;background:#fff;"></div>
<div class="b" style="left:826.00px;top:1513.60px;width:159.75px;height:67.40px;background:#174f90;"></div>
<div class="t" style="left:95.00px;top:1517px;font-size:27px;">Pressure, Bar g</div>
<div class="t" style="left:95.00px;top:1551px;font-size:27px;">Factor (K3)</div>
<div class="t" style="left:609.00px;top:1517px;font-size:27px;transform:translateX(-50%);">4</div>
<div class="t" style="left:611.40px;top:1552px;font-size:27px;transform:translateX(-50%);">0.79</div>
<div class="t" style="left:750.75px;top:1517px;font-size:27px;transform:translateX(-50%);">6</div>
<div class="t" style="left:753.15px;top:1552px;font-size:27px;transform:translateX(-50%);">0.94</div>
<div class="t" style="left:908.88px;top:1517px;font-size:27px;transform:translateX(-50%);color:#fff;">7</div>
<div class="t" style="left:911.27px;top:1552px;font-size:27px;transform:translateX(-50%);color:#fff;">1.00</div>
<div class="t" style="left:1052.75px;top:1517px;font-size:27px;transform:translateX(-50%);">8</div>
<div class="t" style="left:1055.15px;top:1552px;font-size:27px;transform:translateX(-50%);">1.05</div>
<div class="t" style="left:1174.08px;top:1517px;font-size:27px;transform:translateX(-50%);">10</div>
<div class="t" style="left:1176.48px;top:1552px;font-size:27px;transform:translateX(-50%);">1.12</div>
<div class="t" style="left:1295.90px;top:1517px;font-size:27px;transform:translateX(-50%);">13</div>
<div class="t" style="left:1298.30px;top:1552px;font-size:27px;transform:translateX(-50%);">1.20</div>
<div class="t" style="left:1439.83px;top:1517px;font-size:27px;transform:translateX(-50%);">16</div>
<div class="t" style="left:1442.23px;top:1552px;font-size:27px;transform:translateX(-50%);">1.26</div>
<div class="t" style="left:95.00px;top:1595px;font-size:27px;">Flowrate Correction Factor for Different</div>
<div class="t" style="left:602.50px;top:1595px;font-size:27px;color:#e2382d;">Ambient Temperature</div>
<div class="b" style="left:90.90px;top:1625.00px;width:981.10px;height:83.50px;background:#fff;"></div>
<div class="b" style="left:542.50px;top:1625.00px;width:157.50px;height:83.50px;background:#174f90;"></div>
<div class="t" style="left:95.00px;top:1636px;font-size:27px;">Temperature <span class="dg">°</span>C</div>
<div class="t" style="left:95.00px;top:1678px;font-size:27px;">Factor (K4)</div>
<div class="t" style="left:624.25px;top:1636px;font-size:27px;transform:translateX(-50%);color:#fff;">35</div>
<div class="t" style="left:626.65px;top:1678px;font-size:27px;transform:translateX(-50%);color:#fff;">1.00</div>
<div class="t" style="left:766.50px;top:1636px;font-size:27px;transform:translateX(-50%);">38</div>
<div class="t" style="left:768.90px;top:1678px;font-size:27px;transform:translateX(-50%);">0.94</div>
<div class="t" style="left:887.00px;top:1636px;font-size:27px;transform:translateX(-50%);">40</div>
<div class="t" style="left:889.40px;top:1678px;font-size:27px;transform:translateX(-50%);">0.91</div>
<div class="t" style="left:1009.50px;top:1636px;font-size:27px;transform:translateX(-50%);">43</div>
<div class="t" style="left:1011.90px;top:1678px;font-size:27px;transform:translateX(-50%);">0.86</div>
<div class="t j" style="left:93.2px;top:1741px;width:1197.3px;font-size:18.3px;">The airflow rate shown refer to the free air delivery from the compressor (suction 20ºC and 1 bar absolute) and at the following rated operating</div>
<div class="t j" style="left:93.2px;top:1763px;width:1197.3px;font-size:18.3px;">conditions: Working pressure 7 bar g, compressed air inlet temperature 55ºC, ambient temperature 35ºC and pressure dew-point 3ºC</div>
<div class="t j" style="left:93.2px;top:1784px;width:1197.3px;font-size:18.3px;">Maximum operating conditions: Maximum designed pressure 16 bar g, maximum room temperature 45ºC, maximum inlet temperature 80ºC</div>
<div class="t" style="left:97.70px;top:1817px;font-size:19.4px;transform-origin:0 50%;transform:scaleX(1.107);color:#e2382d;">The GLOBAL dryer correction factors should be used for calculating performance in different condition from the above. The</div>
<div class="t" style="left:97.70px;top:1841px;font-size:19.4px;transform-origin:0 50%;transform:scaleX(1.107);color:#e2382d;">correction factors in the following table should be used as a guide only.</div>
<div class="t" style="left:97.70px;top:1865px;font-size:19.4px;transform-origin:0 50%;transform:scaleX(1.107);color:#e2382d;">CAPACITY correction factors (indicative values) CAPACITY = RATED VALUE (7bar) x K1 X K2 X K3 X K4</div>
<div class="dist" style="left:1016px;top:1898px;width:480.6px;height:266.6px;"></div>
<div class="t" style="left:1032.40px;top:1919px;font-size:19.3px;transform-origin:0 50%;transform:scaleX(0.891);">Distributor</div>
<div class="t" style="left:1032.00px;top:2180px;font-size:12.1px;color:#2e2a2b;">Global Equipment reserves the right to modify all the data without prior notice.</div>
<div class="t" style="left:1032.00px;top:2201px;font-size:12.1px;color:#2e2a2b;">* Terms &amp; Conditions apply.</div>
<div class="t lg" style="left:101.00px;top:1987px;font-size:99px;color:#2f4a7b;-webkit-text-stroke:1.4px #2f4a7b;"><span style="letter-spacing:20px">G</span><span style="letter-spacing:12px">L</span>O</div>
<div class="t lg" style="left:508.40px;top:1987px;font-size:99px;color:#2f4a7b;-webkit-text-stroke:1.4px #2f4a7b;"><span style="letter-spacing:15.85px">B</span><span style="letter-spacing:15.15px">A</span>L</div>
<div class="b" style="left:108.60px;top:2083.40px;width:631.20px;height:6.80px;background:#2f4a7b;"></div>
<div class="t lg" style="left:109.00px;top:2094px;font-size:55px;color:#2f4a7b;-webkit-text-stroke:.9px #2f4a7b;"><span style="letter-spacing:35.25px">E</span><span style="letter-spacing:40.25px">Q</span><span style="letter-spacing:31.25px">U</span><span style="letter-spacing:37.75px">I</span><span style="letter-spacing:39.5px">P</span><span style="letter-spacing:36.3px">M</span><span style="letter-spacing:36.4px">E</span><span style="letter-spacing:37.2px">N</span>T</div>
<svg class="b" style="left:366px;top:1948px;" width="132" height="132" viewBox="366 1948 132 132">
<g fill="none" stroke="#2f4a7b">
<circle cx="431.65" cy="2014.2" r="58.5" stroke-width="3.8"/>
<g stroke-width="0.9" stroke="#4d6189">
<ellipse cx="432" cy="1982" rx="46.5" ry="7"/>
<ellipse cx="432" cy="2014" rx="56.7" ry="10"/>
<ellipse cx="432" cy="2046.6" rx="46.5" ry="7.7"/>
<ellipse cx="432.6" cy="2014.2" rx="13.7" ry="57.5"/>
<ellipse cx="433" cy="2014.2" rx="33.5" ry="57.5"/>
</g></g>
<g transform="translate(350 1940) scale(0.1)" fill="#2f4a7b" stroke="none">
<path d="M640 322 L735 330 L818 338 L835 290 L852 258 L872 292 L900 338 L955 345 L1000 343 L990 380 L978 440 L985 490 L992 530 L978 548 L962 510 L948 478 L905 476 L885 500 L892 528 L930 552 L948 585 L945 625 L915 668 L900 700 L860 712 L820 738 L790 770 L805 800 L818 830 L795 852 L770 835 L740 830 L712 800 L700 770 L690 748 L660 738 L620 745 L575 768 L545 800 L520 835 L492 862 L470 820 L455 785 L445 740 L438 722 L405 742 L385 712 L368 690 L322 662 L318 620 L300 572 L360 552 L420 540 L455 500 L500 450 L520 400 L545 368 L600 352 L632 348 Z"/>
<path d="M690 790 L712 800 L725 850 L750 895 L775 930 L762 942 L735 905 L708 862 Z"/>
<path d="M700 925 L722 935 L760 970 L795 1005 L792 1028 L760 1000 L720 962 Z"/>
<path d="M835 965 L870 935 L915 900 L935 925 L930 960 L905 1000 L870 990 L845 985 Z"/>
<path d="M810 1042 L850 1046 L885 1050 L882 1062 L845 1060 L812 1054 Z"/>
<path d="M942 965 L968 955 L962 985 L950 1005 L940 990 Z"/>
<path d="M945 768 L960 800 L968 835 L955 828 L945 800 Z"/>
<path d="M985 868 L1012 868 L1015 890 L990 892 Z"/>
<path d="M1050 975 L1100 965 L1128 985 L1150 960 L1200 985 L1250 1030 L1278 1058 L1232 1036 L1195 1046 L1160 1020 L1100 992 Z"/>
<path d="M1092 388 L1126 394 L1112 440 L1112 498 L1082 530 L1042 560 L1032 582 L1014 566 L1058 530 L1086 490 L1082 430 Z"/>
</g>
</svg>

<svg class="b" style="left:0;top:1260px" width="1600" height="460" viewBox="0 1260 1600 460" fill="#1d1a1b"><rect x="89.60" y="1266.20" width="1139.70" height="2.60"/><rect x="89.60" y="1302.10" width="1139.70" height="2.60"/><rect x="89.60" y="1341.70" width="1139.70" height="2.60"/><rect x="89.60" y="1267.50" width="2.60" height="75.50"/><rect x="541.20" y="1267.50" width="2.60" height="75.50"/><rect x="668.20" y="1267.50" width="2.60" height="75.50"/><rect x="824.70" y="1267.50" width="2.60" height="75.50"/><rect x="984.45" y="1267.50" width="2.60" height="75.50"/><rect x="1112.45" y="1267.50" width="2.60" height="75.50"/><rect x="1226.70" y="1267.50" width="2.60" height="75.50"/><rect x="89.60" y="1385.30" width="1025.45" height="2.60"/><rect x="89.60" y="1430.00" width="1025.45" height="2.60"/><rect x="89.60" y="1468.00" width="1025.45" height="2.60"/><rect x="89.60" y="1386.60" width="2.60" height="82.70"/><rect x="541.20" y="1386.60" width="2.60" height="82.70"/><rect x="668.20" y="1386.60" width="2.60" height="82.70"/><rect x="824.70" y="1386.60" width="2.60" height="82.70"/><rect x="984.45" y="1386.60" width="2.60" height="82.70"/><rect x="1112.45" y="1386.60" width="2.60" height="82.70"/><rect x="89.60" y="1512.30" width="1427.95" height="2.60"/><rect x="89.60" y="1545.50" width="1427.95" height="2.60"/><rect x="89.60" y="1579.70" width="1427.95" height="2.60"/><rect x="89.60" y="1513.60" width="2.60" height="67.40"/><rect x="541.20" y="1513.60" width="2.60" height="67.40"/><rect x="668.20" y="1513.60" width="2.60" height="67.40"/><rect x="824.70" y="1513.60" width="2.60" height="67.40"/><rect x="984.45" y="1513.60" width="2.60" height="67.40"/><rect x="1112.45" y="1513.60" width="2.60" height="67.40"/><rect x="1227.10" y="1513.60" width="2.60" height="67.40"/><rect x="1356.10" y="1513.60" width="2.60" height="67.40"/><rect x="1514.95" y="1513.60" width="2.60" height="67.40"/><rect x="89.60" y="1623.70" width="983.70" height="2.60"/><rect x="89.60" y="1666.90" width="983.70" height="2.60"/><rect x="89.60" y="1707.20" width="983.70" height="2.60"/><rect x="89.60" y="1625.00" width="2.60" height="83.50"/><rect x="541.20" y="1625.00" width="2.60" height="83.50"/><rect x="698.70" y="1625.00" width="2.60" height="83.50"/><rect x="825.70" y="1625.00" width="2.60" height="83.50"/><rect x="939.70" y="1625.00" width="2.60" height="83.50"/><rect x="1070.70" y="1625.00" width="2.60" height="83.50"/></svg>
</body></html>
